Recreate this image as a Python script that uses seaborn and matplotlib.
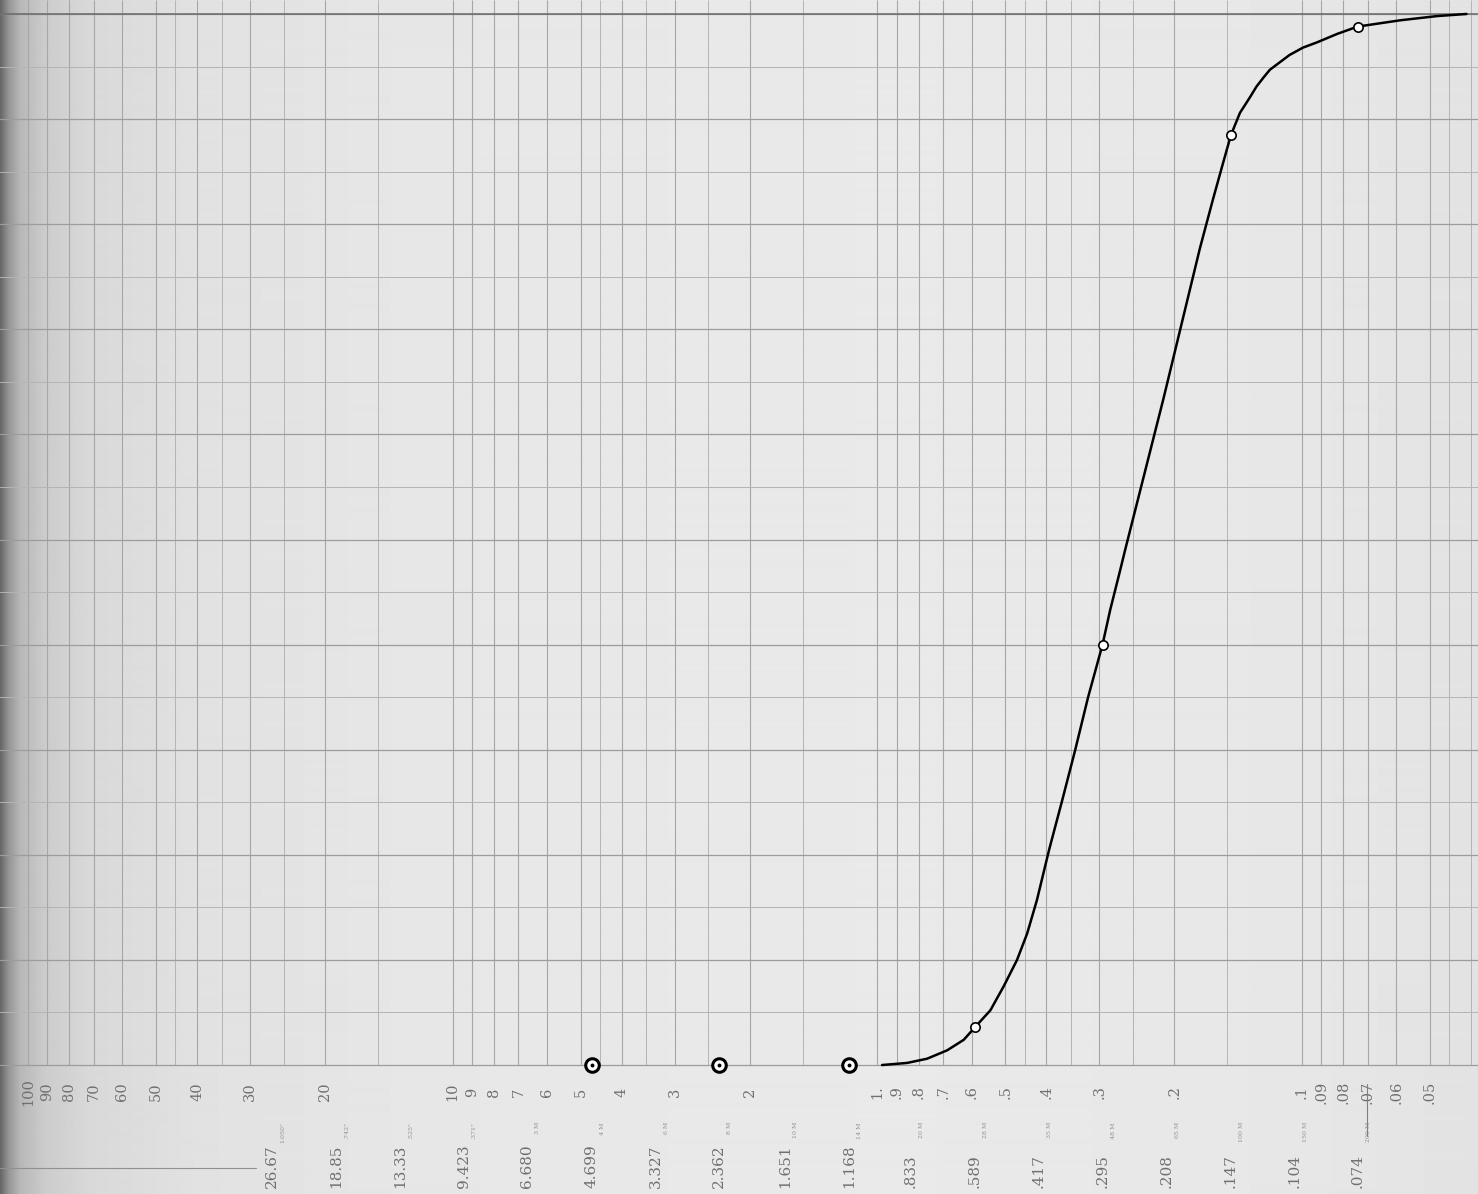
import numpy as np
import pandas as pd
import matplotlib
matplotlib.use("Agg")
import matplotlib.pyplot as plt
import seaborn as sns

# ---------------- data ----------------
# tested sieve openings (mm) and percent passing
test_sizes = [4.699, 2.362, 1.168, 0.589, 0.295, 0.147, 0.074]
test_pct = [0.0, 0.0, 0.0, 3.6, 40.0, 88.5, 98.8]

# hand-drawn grading curve
curve_sizes = [0.975, 0.851, 0.764, 0.685, 0.626, 0.589, 0.542, 0.504, 0.469,
               0.444, 0.421, 0.394, 0.367, 0.342, 0.319, 0.295, 0.283, 0.268,
               0.261, 0.212, 0.174, 0.162, 0.154, 0.147, 0.140, 0.133, 0.128,
               0.123, 0.119, 0.112, 0.107, 0.0995, 0.0922, 0.0827, 0.074,
               0.0587, 0.0481, 0.0410]
curve_pct = [0.0, 0.2, 0.6, 1.4, 2.4, 3.6, 5.2, 7.5, 10.0,
             12.5, 15.7, 20.5, 25.2, 30.0, 35.0, 40.0, 43.3, 47.1,
             49.0, 63.4, 77.7, 82.4, 85.6, 88.5, 90.6, 92.0, 93.1,
             94.0, 94.7, 95.5, 96.1, 96.8, 97.3, 98.1, 98.8,
             99.4, 99.8, 100.0]

# printed scale of the log paper
scale_values = [100, 90, 80, 70, 60, 50, 40, 30, 20, 10, 9, 8, 7, 6, 5, 4, 3, 2, 1,
                .9, .8, .7, .6, .5, .4, .3, .2, .1, .09, .08, .07, .06, .05]
scale_labels = ['100', '90', '80', '70', '60', '50', '40', '30', '20', '10', '9', '8',
                '7', '6', '5', '4', '3', '2', '1.', '.9', '.8', '.7', '.6', '.5', '.4',
                '.3', '.2', '.1', '.09', '.08', '.07', '.06', '.05']

# sieve openings (mm) written under the scale
sieve_values = [26.67, 18.85, 13.33, 9.423, 6.680, 4.699, 3.327, 2.362, 1.651,
                1.168, .833, .589, .417, .295, .208, .147, .104, .074]
sieve_labels = ['26.67', '18.85', '13.33', '9.423', '6.680', '4.699', '3.327',
                '2.362', '1.651', '1.168', '.833', '.589', '.417', '.295', '.208',
                '.147', '.104', '.074']
sieve_marks = ['1.050"', '.742"', '.525"', '.371"', '3 M', '4 M', '6 M', '8 M',
               '10 M', '14 M', '20 M', '28 M', '35 M', '48 M', '65 M', '100 M',
               '150 M', '200 M']

# ---------------- figure ----------------
sns.set_style("white")
plt.rcParams['font.family'] = ['DejaVu Serif', 'DejaVu Sans']

W, H = 1478, 1194
fig = plt.figure(figsize=(W / 100, H / 100), dpi=100)

# paper tone (scan background with darker binding gutter at the left)
bg = fig.add_axes([0, 0, 1, 1], zorder=0)
cols = np.arange(W)
tone = np.interp(cols, [0, 8, 20, 45, 90, 200, 420, 900, 1300, 1478],
                 [0.40, 0.58, 0.72, 0.80, 0.85, 0.885, 0.905, 0.915, 0.905, 0.89])
bg.imshow(np.tile(tone, (2, 1)), cmap='gray', vmin=0, vmax=1, aspect='auto',
          extent=[0, 1, 0, 1], interpolation='bilinear')
bg.set_axis_off()

ax = fig.add_axes([0, 0, 1, 1], zorder=1)
ax.patch.set_alpha(0)
ax.set_xscale('log')
x_left, x_right = 116.4, 0.03852
y_bot, y_top = -12.27, 101.33
ax.set_xlim(x_left, x_right)
ax.set_ylim(y_bot, y_top)
for s in ax.spines.values():
    s.set_visible(False)
ax.set_xticks([])
ax.set_yticks([])
ax.minorticks_off()

# graph-paper grid
grid_steps = [1, 1.5, 2, 2.5, 3, 3.5, 4, 4.5, 5, 6, 7, 8, 9]
vx = []
for dec in [0.01, 0.1, 1, 10, 100]:
    for st in grid_steps:
        v = dec * st
        if x_right <= v <= x_left:
            vx.append(v)
major_v = [v for v in vx if any(abs(v - m) / m < 1e-6 for m in scale_values)]
minor_v = [v for v in vx if v not in major_v]
ax.vlines(minor_v, 0, y_top, color='#b4b4b4', lw=0.7, zorder=1)
ax.vlines(major_v, 0, y_top, color='#a6a6a6', lw=0.8, zorder=1)
for yv in range(0, 101, 5):
    if yv % 10 == 0:
        ax.axhline(yv, color='#9c9c9c', lw=0.9, zorder=1)
    else:
        ax.axhline(yv, color='#b4b4b4', lw=0.7, zorder=1)
ax.axhline(100, color='#6a6a6a', lw=1.1, zorder=1)

# grading curve
curve_df = pd.DataFrame({'size': curve_sizes, 'pct': curve_pct})
sns.lineplot(data=curve_df, x='size', y='pct', sort=False, estimator=None,
             color='black', lw=1.8, ax=ax, zorder=3,
             solid_joinstyle='round', solid_capstyle='round')

# tested points
pts = pd.DataFrame({'size': test_sizes, 'pct': test_pct})
zero_pts = pts[pts['pct'] == 0]
curve_pts = pts[pts['pct'] > 0]
sns.scatterplot(data=curve_pts, x='size', y='pct', marker='o', s=45,
                facecolor='white', edgecolor='black', linewidth=1.2,
                ax=ax, zorder=4, clip_on=False)
sns.scatterplot(data=zero_pts, x='size', y='pct', marker='o', s=95,
                facecolor='white', edgecolor='black', linewidth=2.2,
                ax=ax, zorder=4, clip_on=False)
sns.scatterplot(data=zero_pts, x='size', y='pct', marker='o', s=8,
                color='black', linewidth=0, ax=ax, zorder=5, clip_on=False)
ax.set_xlabel('')
ax.set_ylabel('')

# printed scale labels (rotated)
px = 10.51  # pixels per percent
row1_y = -(1092 - 1065) / px
for v, lab in zip(scale_values, scale_labels):
    ax.text(v, row1_y, lab, rotation=90, ha='center', va='center',
            fontsize=10.5, color='#707070', zorder=2)

row2_y = -(1188 - 1065) / px
mark_y = -(1122 - 1065) / px
for v, lab, mk in zip(sieve_values, sieve_labels, sieve_marks):
    ax.text(v, row2_y, lab, rotation=90, ha='center', va='bottom',
            fontsize=11, color='#707070', zorder=2)
    ax.text(v / 1.06, mark_y, mk, rotation=90, ha='center', va='top',
            fontsize=4.5, color='#909090', zorder=2)

# rule under the coarse labels and leader at .074
ax.plot([x_left, 29.0], [-(1168 - 1065) / px] * 2, color='#909090', lw=0.8,
        clip_on=False)
ax.plot([0.0705, 0.0705], [-(1084 - 1065) / px, -(1136 - 1065) / px],
        color='#808080', lw=0.8)

fig.savefig('out.png', dpi=100)
